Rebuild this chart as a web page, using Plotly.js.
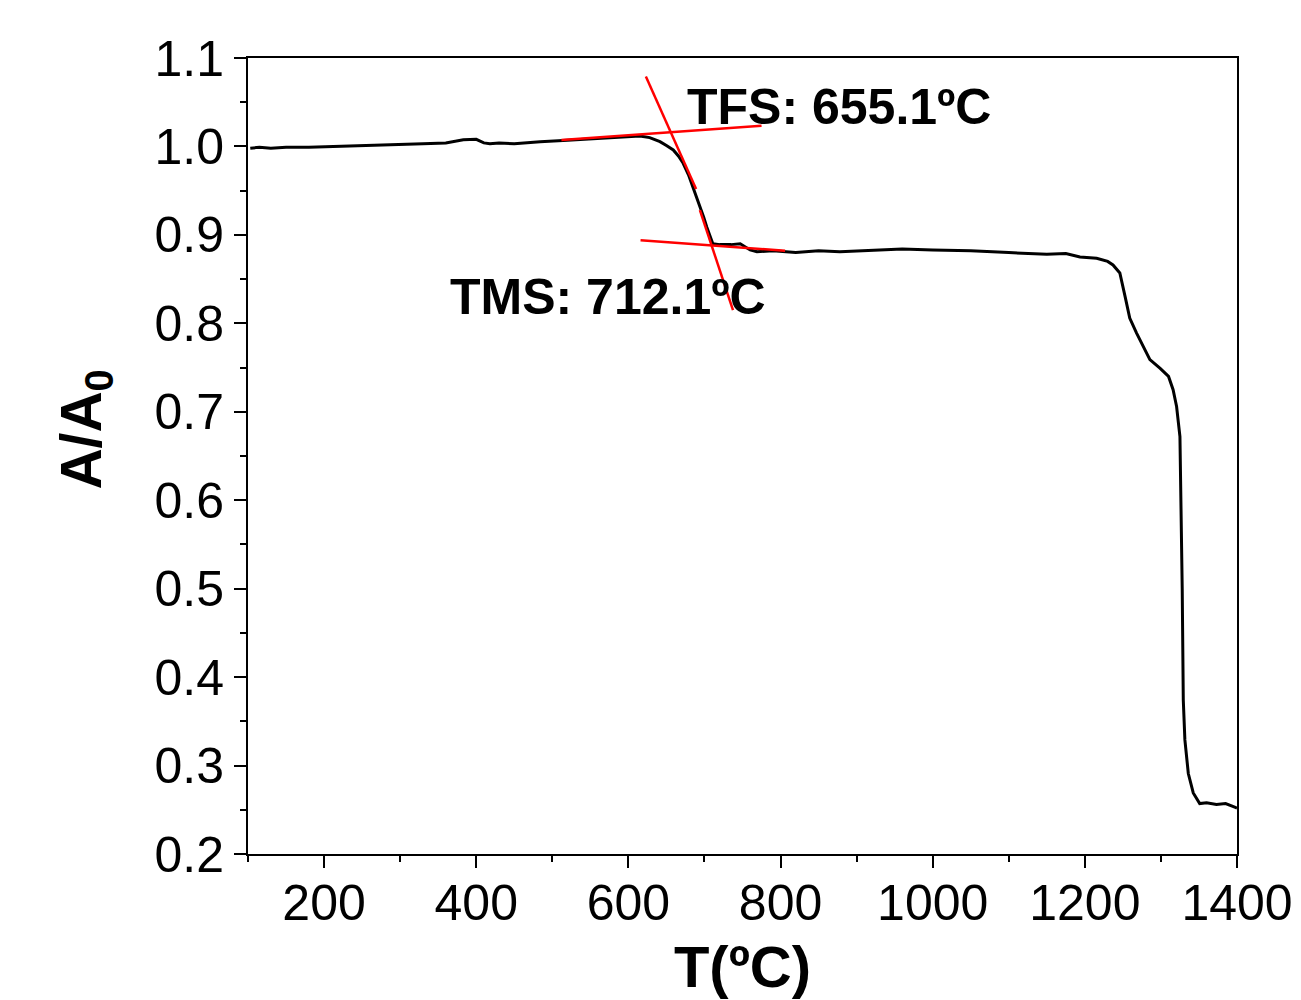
<!DOCTYPE html>
<html><head><meta charset="utf-8">
<script src="https://cdn.plot.ly/plotly-3.0.1.min.js"></script>
<style>body{margin:0;background:#fff}</style>
</head><body>
<div id="chart" style="width:1301px;height:1000px"></div>
<script>
// Measured curve: temperature (ºC) and normalized area A/A0
const temperature = [103, 115, 130, 150, 180, 208, 240, 270, 300, 330, 360, 383, 400, 410, 418, 430, 450, 484, 520, 560, 590, 615, 628, 641.5, 650, 659, 666, 672, 679, 685, 690, 694, 699, 703, 707, 711, 720, 735, 747, 760, 769, 790, 820, 850, 878, 910, 960, 1000, 1050, 1100, 1150, 1175, 1193.6, 1215.5, 1230, 1237, 1246, 1253, 1259, 1268, 1277, 1285.5, 1299, 1310, 1316, 1320.6, 1325, 1327, 1328, 1329.4, 1331.5, 1336, 1342.5, 1351, 1360, 1373, 1385, 1397, 1400];
const ratio = [0.998, 0.999, 0.998, 0.999, 0.999, 0.9997, 1.000, 1.001, 1.0015, 1.003, 1.004, 1.0075, 1.008, 1.004, 1.003, 1.004, 1.003, 1.0054, 1.007, 1.009, 1.011, 1.0118, 1.010, 1.0054, 1.001, 0.996, 0.989, 0.981, 0.968, 0.954, 0.942, 0.932, 0.920, 0.909, 0.899, 0.890, 0.889, 0.889, 0.890, 0.883, 0.881, 0.882, 0.880, 0.882, 0.881, 0.882, 0.884, 0.883, 0.882, 0.880, 0.878, 0.879, 0.875, 0.8735, 0.870, 0.866, 0.857, 0.830, 0.806, 0.789, 0.773, 0.759, 0.749, 0.740, 0.725, 0.706, 0.672, 0.566, 0.500, 0.374, 0.329, 0.291, 0.269, 0.257, 0.258, 0.256, 0.257, 0.253, 0.252];

// Tangent construction lines (red)
const tfsBaseX = [512, 775];
const tfsBaseY = [1.0073, 1.0235];
const tfsSlopeX = [623, 689];
const tfsSlopeY = [1.079, 0.952];
const tmsSlopeX = [694, 737.5];
const tmsSlopeY = [0.928, 0.815];
const tmsBaseX = [616, 806];
const tmsBaseY = [0.894, 0.882];

const labels = ["TFS: 655.1ºC", "TMS: 712.1ºC"];
const labelX = [674.4, 362.9];
const labelY = [1.0446, 0.8298];

const xTicks = [200, 400, 600, 800, 1000, 1200, 1400];
const yTicks = [0.2, 0.3, 0.4, 0.5, 0.6, 0.7, 0.8, 0.9, 1.0, 1.1];

const redLine = {color: '#ff0000', width: 2.5};
const traces = [
  {x: temperature, y: ratio, mode: 'lines', line: {color: '#000', width: 3}, showlegend: false},
  {x: tfsBaseX, y: tfsBaseY, mode: 'lines', line: redLine, showlegend: false},
  {x: tfsSlopeX, y: tfsSlopeY, mode: 'lines', line: redLine, showlegend: false},
  {x: tmsSlopeX, y: tmsSlopeY, mode: 'lines', line: redLine, showlegend: false},
  {x: tmsBaseX, y: tmsBaseY, mode: 'lines', line: redLine, showlegend: false}
];

const font = 'Liberation Sans, Arial, sans-serif';
const annots = labels.map((t, i) => ({
  x: labelX[i], y: labelY[i], xref: 'x', yref: 'y', text: '<b>' + t + '</b>',
  showarrow: false, xanchor: 'left', yanchor: 'middle',
  font: {size: 50, family: font, color: '#000'}
}));
annots.push({
  x: -0.165, y: 0.533, xref: 'paper', yref: 'paper', text: '<b>A/A<sub>0</sub></b>',
  textangle: -90, showarrow: false, xanchor: 'center', yanchor: 'middle',
  font: {size: 57, family: font, color: '#000'}
});
const layout = {
  width: 1301, height: 1000,
  margin: {l: 248, r: 64, t: 58, b: 146},
  paper_bgcolor: '#fff', plot_bgcolor: '#fff',
  font: {family: font, color: '#000'},
  showlegend: false,
  xaxis: {
    range: [100, 1400], tickvals: xTicks, ticktext: xTicks.map(String),
    ticks: 'outside', ticklen: 12, tickwidth: 2, tickcolor: '#000',
    ticklabelstandoff: -8,
    minor: {dtick: 100, tick0: 100, ticks: 'outside', ticklen: 6, tickwidth: 2, tickcolor: '#000'},
    showline: true, linewidth: 2, linecolor: '#000', mirror: true,
    showgrid: false, zeroline: false,
    tickfont: {size: 50, family: font},
    title: {text: '<b>T(ºC)</b>', font: {size: 58, family: font}, standoff: 16}
  },
  yaxis: {
    range: [0.2, 1.1], tickvals: yTicks, ticktext: yTicks.map(v => v.toFixed(1)),
    ticks: 'outside', ticklen: 12, tickwidth: 2, tickcolor: '#000',
    minor: {dtick: 0.05, tick0: 0.2, ticks: 'outside', ticklen: 6, tickwidth: 2, tickcolor: '#000'},
    showline: true, linewidth: 2, linecolor: '#000', mirror: true,
    showgrid: false, zeroline: false,
    tickfont: {size: 50, family: font}
  },
  annotations: annots
};
Plotly.newPlot('chart', traces, layout, {displayModeBar: false, staticPlot: true});
</script>
</body></html>
